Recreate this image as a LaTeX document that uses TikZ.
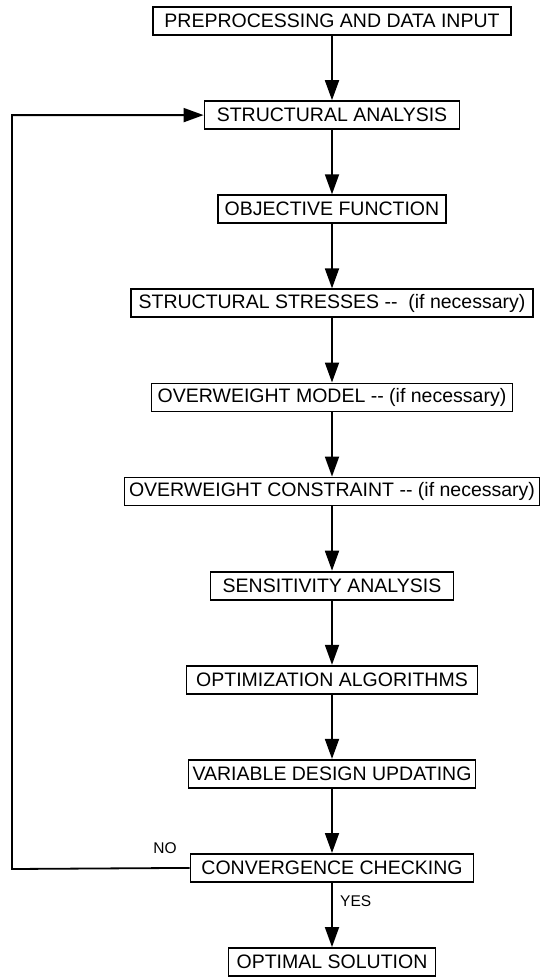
\documentclass[tikz,border=0pt]{standalone}
\usepackage{fontspec}
\setmainfont{Liberation Sans}
\usetikzlibrary{arrows.meta,positioning}
\tikzset{
  stufe/.style={draw,line width=1.8pt,minimum height=28pt,inner sep=0pt,font=\fontsize{19.5}{22}\selectfont},
  pfeil/.style={line width=1.8pt,-{Triangle[length=20pt,width=14pt]}},
  marke/.style={font=\fontsize{15.5}{18}\selectfont}
}
\begin{document}
\begin{tikzpicture}[x=1pt,y=-1pt]
\useasboundingbox (0,0) rectangle (541,977);
%Abstand der Kaesten
  \pgfmathsetmacro{\dy}{94.1}
  \pgfmathsetmacro{\xm}{332}
\foreach \i/\bx/\txt in {1/358/PREPROCESSING AND DATA INPUT,2/255/STRUCTURAL ANALYSIS,3/228/OBJECTIVE FUNCTION,4/402/{STRUCTURAL STRESSES -{}-~ (if necessary)},5/361/{OVERWEIGHT MODEL -{}- (if necessary)},6/415/{OVERWEIGHT CONSTRAINT -{}- (if necessary)},7/243/SENSITIVITY ANALYSIS,8/291/OPTIMIZATION ALGORITHMS,9/287/VARIABLE DESIGN UPDATING,10/283/CONVERGENCE CHECKING,11/207/OPTIMAL SOLUTION}{
\node[stufe,minimum width=\bx pt] (b\i) at (\xm,{21+(\i-1)*\dy}) {\txt};
}
\foreach \i [evaluate=\i as \j using int(\i+1)] in {1,...,9}{
\draw[pfeil] (b\i) -- (b\j);
}
\draw[pfeil] (b10) --node[marke,pos=0.28,right,xshift=4pt] (ja) {YES} (b11);
%Rueckfuehrung
\coordinate (eck) at (12,869);
\draw[pfeil] (b10.west) -- (eck) |- (b2.west);
\node[marke] (nein) at (165,848) {NO};
\end{tikzpicture}
\end{document}
